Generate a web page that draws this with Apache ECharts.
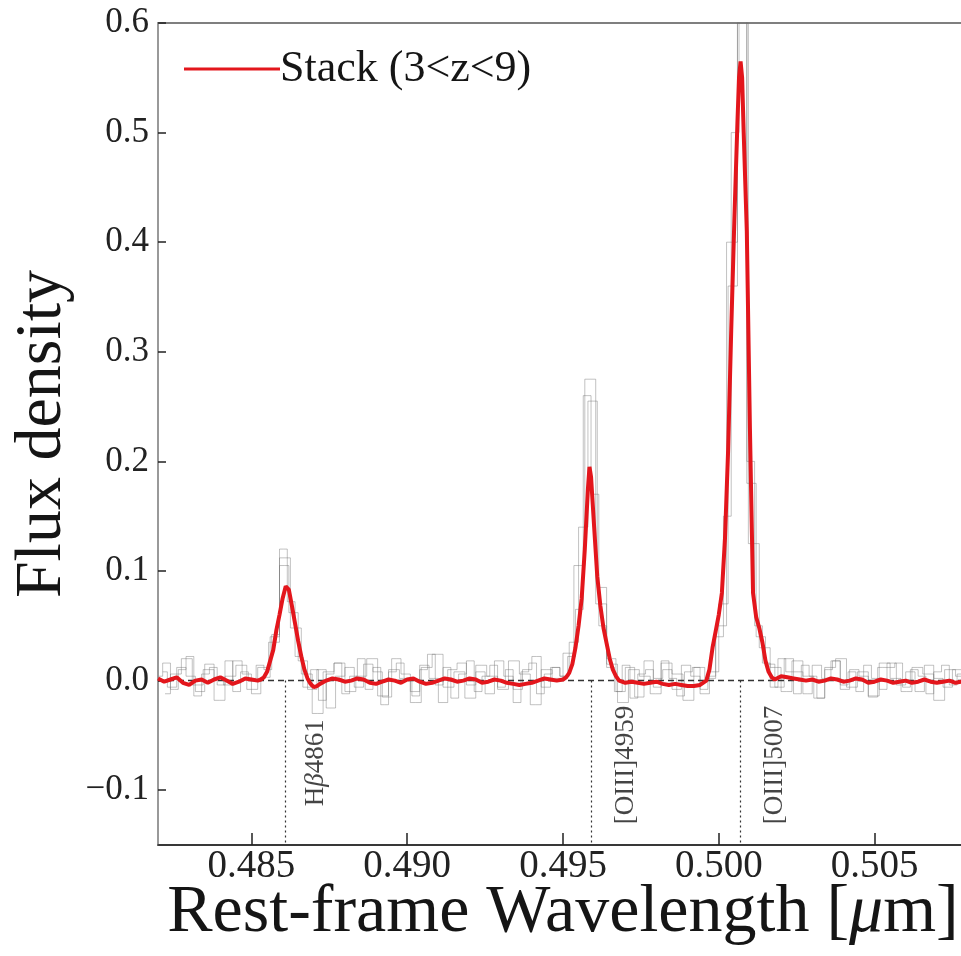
<!DOCTYPE html>
<html>
<head>
<meta charset="utf-8">
<script src="https://cdn.jsdelivr.net/npm/echarts@6/dist/echarts.min.js"></script>
<style>html,body{margin:0;padding:0;background:#fff;}#c{width:961px;height:956px;}</style>
</head>
<body>
<div id="c"></div>
<script>
// ---------- data ----------
var xTicks = [0.485, 0.490, 0.495, 0.500, 0.505];
var yTicks = [-0.1, 0.0, 0.1, 0.2, 0.3, 0.4, 0.5, 0.6];

var stackWave = [
  0.4820,0.4822,0.4824,0.4826,0.4828,0.4830,0.4832,0.4834,0.4836,0.4838,0.4840,0.4842,0.4844,0.4846,0.4848,0.4850,0.4852,
  0.4853,0.4854,0.4855,0.4856,0.4857,0.4858,0.4859,0.4860,0.4861,0.48615,0.4862,0.4863,0.4864,0.4865,0.4866,0.4867,0.4868,0.4869,0.4870,0.4871,0.4872,0.4874,
  0.4876,0.4878,0.4880,0.4882,0.4884,0.4886,0.4888,0.4890,0.4892,0.4894,0.4896,0.4898,0.4900,0.4902,0.4904,0.4906,0.4908,0.4910,0.4912,0.4914,0.4916,0.4918,0.4920,0.4922,0.4924,0.4926,0.4928,0.4930,0.4932,0.4934,0.4936,0.4938,0.4940,0.4942,0.4944,0.4946,0.4948,
  0.4950,0.4951,0.4952,0.4953,0.4954,0.4955,0.4956,0.4957,0.4958,0.49585,0.4959,0.4960,0.4961,0.4962,0.4963,0.4964,0.4965,0.4966,0.4967,0.4968,
  0.4970,0.4972,0.4974,0.4976,0.4978,0.4980,0.4982,0.4984,0.4986,0.4988,0.4990,0.4992,0.4994,
  0.4996,0.4997,0.4998,0.4999,0.5000,0.5001,0.5002,0.5003,0.5004,0.5005,0.5006,0.50065,0.5007,0.50075,0.5008,0.5009,0.5010,0.5011,0.5012,0.5013,0.5014,0.5015,0.5016,0.5017,0.5018,
  0.5020,0.5022,0.5024,0.5026,0.5028,0.5030,0.5032,0.5034,0.5036,0.5038,0.5040,0.5042,0.5044,0.5046,0.5048,0.5050,0.5052,0.5054,0.5056,0.5058,0.5060,0.5062,0.5064,0.5066,0.5068,0.5070,0.5072,0.5074,0.5076,0.5078,0.5080
];
var stackFlux = [
  0.002,-0.001,0.001,0.003,-0.002,-0.004,0.000,0.001,-0.002,0.001,0.003,0.000,-0.003,-0.001,0.002,0.001,0.000,
  0.001,0.003,0.008,0.018,0.028,0.046,0.060,0.075,0.086,0.087,0.083,0.068,0.052,0.036,0.022,0.010,0.002,-0.003,-0.006,-0.005,-0.003,0.000,
  0.002,0.001,-0.001,0.000,0.002,0.001,-0.002,-0.003,-0.001,0.001,0.000,-0.002,0.001,0.002,-0.001,-0.003,-0.002,0.000,0.002,0.001,-0.001,0.000,0.002,0.001,-0.002,-0.001,0.001,0.000,-0.002,-0.003,-0.004,-0.003,-0.002,0.000,0.002,0.001,0.000,
  0.001,0.003,0.007,0.015,0.030,0.050,0.075,0.120,0.175,0.195,0.186,0.140,0.095,0.068,0.048,0.034,0.020,0.010,0.004,0.000,
  -0.002,-0.001,-0.002,-0.003,-0.002,-0.001,-0.003,-0.004,-0.003,-0.004,-0.005,-0.005,-0.004,
  0.000,0.010,0.030,0.045,0.060,0.080,0.130,0.210,0.320,0.420,0.510,0.550,0.565,0.550,0.500,0.410,0.230,0.080,0.058,0.048,0.035,0.018,0.008,0.003,0.001,
  0.004,0.003,0.002,0.001,0.000,0.001,-0.001,0.000,0.002,0.001,-0.001,0.000,0.002,0.001,-0.002,-0.001,0.001,0.000,-0.002,-0.001,0.000,-0.002,-0.001,0.001,-0.001,-0.002,-0.001,0.000,-0.002,-0.001,-0.002
];

// individual spectra (binned): first bin centre, bin width, values
var specAStart = 0.48215, specAStep = 0.0003;
var specAFlux = [
  0.008,-0.006,0.012,0.004,-0.010,0.015,0.002,-0.004,0.018,0.006,
  -0.012,0.003,0.040,0.105,0.062,0.018,-0.008,0.010,-0.025,0.004,
  0.012,-0.006,0.015,0.008,-0.015,0.020,0.006,-0.010,0.014,0.002,
  -0.020,0.010,0.016,-0.004,0.008,-0.012,0.018,0.004,-0.008,0.010,
  0.022,-0.006,0.012,0.004,0.035,0.140,0.255,0.085,0.020,-0.010,
  0.012,-0.015,0.018,0.002,0.010,-0.008,0.014,0.004,-0.012,0.008,
  0.070,0.360,0.620,0.180,0.040,0.015,-0.006,0.020,0.008,-0.012,
  0.014,0.002,0.018,-0.008,0.010,0.004,-0.015,0.012,0.016,-0.004,
  0.008,-0.010,0.014,0.002,-0.006,0.010,0.004
];
var specBStart = 0.482225, specBStep = 0.00035;
var specBFlux = [
  -0.012,0.006,0.020,-0.004,0.010,-0.018,0.004,0.014,-0.008,0.012,
  0.035,0.112,0.048,0.006,-0.030,0.008,0.016,-0.010,0.004,0.020,
  -0.014,0.010,0.002,-0.020,0.012,0.024,-0.006,0.008,-0.016,0.014,
  0.004,-0.008,0.018,0.006,-0.022,0.010,0.002,0.025,0.105,0.275,
  0.070,0.015,-0.020,0.010,0.004,-0.012,0.016,0.006,-0.018,0.012,
  0.002,0.050,0.400,0.600,0.125,0.030,0.012,-0.010,0.018,0.004,
  -0.016,0.012,0.020,-0.006,0.008,-0.014,0.016,0.002,-0.010,0.012,
  0.006,-0.018,0.010,0.004
];
var specCStart = 0.482025, specCStep = 0.00025;
var specCFlux = [
  0.004,0.016,-0.008,0.010,0.022,-0.014,0.006,0.012,-0.004,0.018,
  -0.010,0.008,0.002,0.014,0.010,0.042,0.120,0.072,0.022,-0.006,
  0.010,-0.018,0.006,0.016,-0.012,0.004,0.020,-0.008,0.012,-0.022,
  0.008,0.016,0.002,-0.014,0.010,0.024,-0.004,0.012,-0.016,0.006,
  0.018,-0.010,0.004,0.014,-0.006,0.010,-0.020,0.008,0.016,-0.012,
  0.006,0.012,0.004,0.022,0.065,0.260,0.170,0.050,0.012,-0.010,
  0.014,-0.016,0.006,0.010,-0.006,0.018,0.002,-0.014,0.008,0.012,
  -0.008,0.004,0.040,0.150,0.500,0.650,0.200,0.050,0.016,-0.006,
  0.020,0.008,-0.012,0.014,0.004,-0.016,0.010,0.018,-0.004,0.008,
  -0.010,0.014,0.002,-0.008,0.012,0.016,-0.006,0.010,0.004,-0.012,
  0.008,0.014,-0.004,0.006,0.002
];

var lineNames = ['Hβ4861', '[OIII]4959', '[OIII]5007'];
var lineWaves = [0.4861, 0.4959, 0.5007];
var labelY = [-0.075, -0.077, -0.077];
var legendName = 'Stack (3<z<9)';

// ---------- build ----------
function binned(start, step, vals) {
  return vals.map(function (v, i) { return [start + i * step, v]; });
}
function pairs(xs, ys) { return xs.map(function (x, i) { return [x, ys[i]]; }); }

var serif = '"Liberation Serif", "Times New Roman", serif';
var greyStyle = { color: 'rgba(110,110,110,0.42)', width: 1 };

// label offsets in the rotated frame: [along text, across text] -> second moves right on screen
var labelOffsets = [[0, 30], [0, 35], [0, 34]];
var labelData = lineNames.map(function (n, i) {
  var fmt = i === 0 ? '{r|H}{i|β}{r|4861}' : '{r|' + n + '}';
  return { value: [lineWaves[i], labelY[i]], label: { formatter: fmt, offset: labelOffsets[i] } };
});

var chart = echarts.init(document.getElementById('c'), null, { renderer: 'canvas' });
chart.setOption({
  animation: false,
  backgroundColor: '#fff',
  grid: { left: 158, right: -7, top: 23, bottom: 111, containLabel: false, outerBoundsMode: 'none',
    show: true, borderColor: '#555', borderWidth: 1.5, backgroundColor: 'transparent' },
  legend: {
    data: [legendName], left: 179, top: 42, icon: 'rect', itemWidth: 96, itemHeight: 3,
    itemGap: 0, selectedMode: false,
    textStyle: { fontFamily: serif, fontSize: 44, color: '#151515', padding: [0, 0, 0, -5] }
  },
  xAxis: {
    type: 'value', min: 0.482, max: 0.508,
    name: 'Rest-frame Wavelength [{i|μ}m]', nameLocation: 'middle', nameGap: 34, nameMoveOverlap: false,
    nameTextStyle: { fontFamily: serif, fontSize: 68, color: '#151515', rich: { i: { fontFamily: serif, fontStyle: 'italic', fontSize: 68, color: '#151515' } } },
    axisLine: { show: true, onZero: false, lineStyle: { color: '#222', width: 1.5 } },
    axisTick: { show: true, inside: true, length: 12, customValues: xTicks, lineStyle: { color: '#222', width: 1.5 } },
    axisLabel: { customValues: xTicks, margin: 2, fontFamily: serif, fontSize: 39, color: '#222', formatter: function (v) { return v.toFixed(3); } },
    splitLine: { show: false }
  },
  yAxis: {
    type: 'value', min: -0.15, max: 0.6,
    name: 'Flux density', nameLocation: 'middle', nameGap: 82, nameMoveOverlap: false,
    nameTextStyle: { fontFamily: serif, fontSize: 66, color: '#151515' },
    axisLine: { show: true, onZero: false, lineStyle: { color: '#999', width: 2 } },
    axisTick: { show: true, inside: true, length: 8, customValues: yTicks, lineStyle: { color: '#222', width: 1.5 } },
    axisLabel: { customValues: yTicks, margin: 9, fontFamily: serif, fontSize: 35, color: '#222',
      formatter: function (v) { return v.toFixed(1).replace('-', '\u2212'); } },
    splitLine: { show: false }
  },
  series: [
    { type: 'line', name: 'A', data: binned(specAStart, specAStep, specAFlux), step: 'middle', symbol: 'none', lineStyle: greyStyle, silent: true, z: 1 },
    { type: 'line', name: 'B', data: binned(specBStart, specBStep, specBFlux), step: 'middle', symbol: 'none', lineStyle: greyStyle, silent: true, z: 1 },
    { type: 'line', name: 'C', data: binned(specCStart, specCStep, specCFlux), step: 'middle', symbol: 'none', lineStyle: greyStyle, silent: true, z: 1 },
    {
      type: 'line', name: 'ref', data: [], symbol: 'none', silent: true, z: 2,
      markLine: {
        silent: true, symbol: 'none', label: { show: false },
        data: [
          { yAxis: 0, lineStyle: { type: [6, 4], color: '#333', width: 1.3 } }
        ].concat(lineWaves.map(function (w) {
          return [{ coord: [w, 0], lineStyle: { type: [2, 3], color: '#333', width: 1.2 } }, { coord: [w, -0.15] }];
        })),
        lineStyle: { type: [2, 3], color: '#333', width: 1.2 }
      }
    },
    { type: 'line', name: legendName, data: pairs(stackWave, stackFlux), symbol: 'none', color: '#e3161c',
      lineStyle: { color: '#e3161c', width: 4 }, z: 5 },
    {
      type: 'scatter', name: 'labels', data: labelData, symbolSize: 0, silent: true, z: 6,
      label: { show: true, position: 'inside', rotate: 90,
        rich: { r: { fontFamily: serif, fontSize: 27, color: '#151515' }, i: { fontFamily: serif, fontStyle: 'italic', fontSize: 27, color: '#151515' } } }
    }
  ]
});
</script>
</body>
</html>
